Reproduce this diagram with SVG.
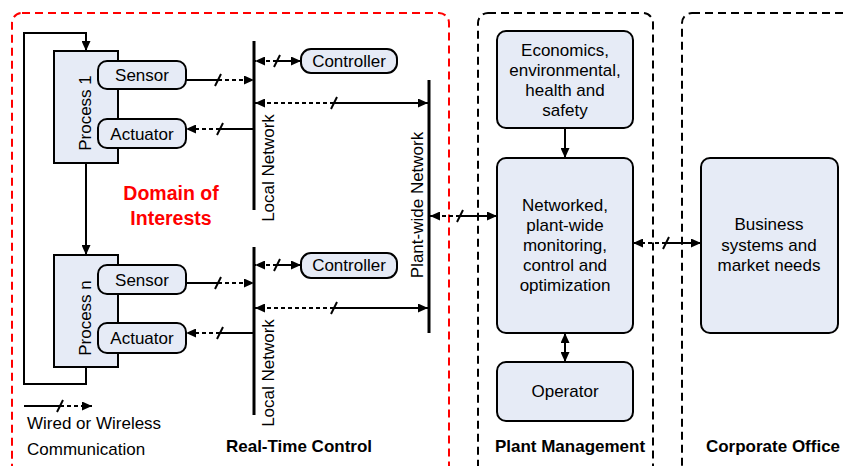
<svg xmlns="http://www.w3.org/2000/svg" width="848" height="466" viewBox="0 0 848 466">
<style>
.box{fill:#e6ebf6;stroke:#000;stroke-width:2}
.t{font-family:"Liberation Sans",Arial,sans-serif;font-size:17px;fill:#000;text-anchor:middle}
.b{font-weight:bold}
.red{fill:#ff0000;font-size:19.5px}
.ln{stroke:#000;stroke-width:2;fill:none}
.net{stroke:#000;stroke-width:3;fill:none}
.d{stroke:#000;stroke-width:2;fill:none;stroke-dasharray:4 3}
.zone{fill:none;stroke:#000;stroke-width:2;stroke-dasharray:8 5}
.zr{fill:none;stroke:#ff0000;stroke-width:2;stroke-dasharray:8 5}
</style>
<defs>
<marker id="ah" viewBox="0 0 10 9" refX="10" refY="4.5" markerWidth="10" markerHeight="9" markerUnits="userSpaceOnUse" orient="auto-start-reverse">
<path d="M0,0 L10,4.5 L0,9 z" fill="#000"/>
</marker>
</defs>

<g id="zones">
<rect class="zr" x="12" y="13" width="437" height="480" rx="10"/>
<rect class="zone" x="478" y="13" width="175" height="480" rx="10"/>
<rect class="zone" x="682" y="13" width="200" height="480" rx="10"/>
</g>

<g id="networks">
<line class="net" x1="254" y1="41" x2="254" y2="210"/>
<line class="net" x1="254" y1="247" x2="254" y2="415"/>
<line class="net" x1="429" y1="80" x2="429" y2="333"/>
<text class="t" transform="translate(274,168) rotate(-90)">Local Network</text>
<text class="t" transform="translate(274,373) rotate(-90)">Local Network</text>
<text class="t" transform="translate(423,205) rotate(-90)">Plant-wide Network</text>
</g>

<g id="process1">
<rect class="box" x="54" y="51" width="64" height="112"/>
<text class="t" transform="translate(91,113) rotate(-90)">Process 1</text>
</g>
<g id="sensor1">
<rect class="box" x="98" y="61" width="88" height="28" rx="9"/>
<text class="t" x="142" y="81">Sensor</text>
</g>
<g id="actuator1">
<rect class="box" x="98" y="119" width="88" height="29" rx="9"/>
<text class="t" x="142" y="139.5">Actuator</text>
</g>
<g id="controller1">
<rect class="box" x="301" y="49" width="96" height="24" rx="10"/>
<text class="t" x="349" y="67">Controller</text>
</g>

<g id="processn">
<rect class="box" x="54" y="255" width="64" height="112"/>
<text class="t" transform="translate(91,318) rotate(-90)">Process n</text>
</g>
<g id="sensorn">
<rect class="box" x="98" y="265" width="88" height="29" rx="9"/>
<text class="t" x="142" y="285.5">Sensor</text>
</g>
<g id="actuatorn">
<rect class="box" x="98" y="323" width="88" height="30" rx="9"/>
<text class="t" x="142" y="344">Actuator</text>
</g>
<g id="controllern">
<rect class="box" x="301" y="253" width="96" height="25" rx="10"/>
<text class="t" x="349" y="271">Controller</text>
</g>

<g id="economics">
<rect class="box" x="497" y="31" width="136" height="97" rx="9"/>
<text class="t" x="565" y="56">Economics,</text>
<text class="t" x="565" y="76">environmental,</text>
<text class="t" x="565" y="96">health and</text>
<text class="t" x="565" y="116">safety</text>
</g>
<g id="networked">
<rect class="box" x="497" y="158" width="136" height="175" rx="9"/>
<text class="t" x="565" y="211">Networked,</text>
<text class="t" x="565" y="231">plant-wide</text>
<text class="t" x="565" y="251">monitoring,</text>
<text class="t" x="565" y="271">control and</text>
<text class="t" x="565" y="291">optimization</text>
</g>
<g id="operator">
<rect class="box" x="497" y="362" width="136" height="59" rx="9"/>
<text class="t" x="565" y="397">Operator</text>
</g>
<g id="business">
<rect class="box" x="701" y="158" width="137" height="175" rx="9"/>
<text class="t" x="769" y="230">Business</text>
<text class="t" x="769" y="251">systems and</text>
<text class="t" x="769" y="271">market needs</text>
</g>

<g id="labels">
<text class="t red b" x="171" y="200">Domain of</text>
<text class="t red b" x="171" y="225">Interests</text>
<text class="t b" x="299" y="452">Real-Time Control</text>
<text class="t b" x="570" y="452">Plant Management</text>
<text class="t b" x="773" y="452">Corporate Office</text>
<text class="t" x="27" y="429" style="text-anchor:start">Wired or Wireless</text>
<text class="t" x="27" y="455" style="text-anchor:start">Communication</text>
</g>

<g id="connectors">
<!-- process chain -->
<line class="ln" x1="86" y1="163" x2="86" y2="255" marker-end="url(#ah)"/>
<path class="ln" d="M86,367 V384 H24 V33 H86 V51" marker-end="url(#ah)"/>
<!-- group 1 -->
<line class="ln" x1="186" y1="80" x2="218" y2="80"/>
<line class="ln" x1="215" y1="86" x2="221" y2="74"/>
<line class="d" x1="218" y1="80" x2="254" y2="80" marker-end="url(#ah)"/>
<line class="ln" x1="254" y1="129" x2="220" y2="129"/>
<line class="ln" x1="217" y1="135" x2="223" y2="123"/>
<line class="d" x1="220" y1="129" x2="186" y2="129" marker-end="url(#ah)"/>
<line class="d" x1="277" y1="61" x2="255" y2="61" marker-end="url(#ah)"/>
<line class="ln" x1="274" y1="67" x2="280" y2="55"/>
<line class="ln" x1="277" y1="61" x2="301" y2="61" marker-end="url(#ah)"/>
<line class="d" x1="334" y1="103" x2="255" y2="103" marker-end="url(#ah)"/>
<line class="ln" x1="331" y1="109" x2="337" y2="97"/>
<line class="ln" x1="334" y1="103" x2="428" y2="103" marker-end="url(#ah)"/>
<!-- group n -->
<line class="ln" x1="186" y1="283" x2="218" y2="283"/>
<line class="ln" x1="215" y1="289" x2="221" y2="277"/>
<line class="d" x1="218" y1="283" x2="254" y2="283" marker-end="url(#ah)"/>
<line class="ln" x1="254" y1="333" x2="220" y2="333"/>
<line class="ln" x1="217" y1="339" x2="223" y2="327"/>
<line class="d" x1="220" y1="333" x2="186" y2="333" marker-end="url(#ah)"/>
<line class="d" x1="277" y1="265" x2="255" y2="265" marker-end="url(#ah)"/>
<line class="ln" x1="274" y1="271" x2="280" y2="259"/>
<line class="ln" x1="277" y1="265" x2="301" y2="265" marker-end="url(#ah)"/>
<line class="d" x1="334" y1="308" x2="255" y2="308" marker-end="url(#ah)"/>
<line class="ln" x1="331" y1="314" x2="337" y2="302"/>
<line class="ln" x1="334" y1="308" x2="428" y2="308" marker-end="url(#ah)"/>
<!-- plant-wide to networked -->
<line class="d" x1="460" y1="216" x2="430" y2="216" marker-end="url(#ah)"/>
<line class="ln" x1="457" y1="222" x2="463" y2="210"/>
<line class="ln" x1="460" y1="216" x2="497" y2="216" marker-end="url(#ah)"/>
<!-- networked to business -->
<line class="d" x1="666" y1="243" x2="633" y2="243" marker-end="url(#ah)"/>
<line class="ln" x1="663" y1="249" x2="669" y2="237"/>
<line class="ln" x1="666" y1="243" x2="701" y2="243" marker-end="url(#ah)"/>
<!-- plant management internal -->
<line class="ln" x1="565" y1="128" x2="565" y2="158" marker-end="url(#ah)"/>
<line class="ln" x1="565" y1="333" x2="565" y2="362" marker-start="url(#ah)" marker-end="url(#ah)"/>
<!-- legend -->
<line class="ln" x1="24" y1="406" x2="60" y2="406"/>
<line class="ln" x1="57" y1="412" x2="63" y2="400"/>
<line class="d" x1="60" y1="406" x2="92" y2="406" marker-end="url(#ah)"/>
</g>
</svg>
